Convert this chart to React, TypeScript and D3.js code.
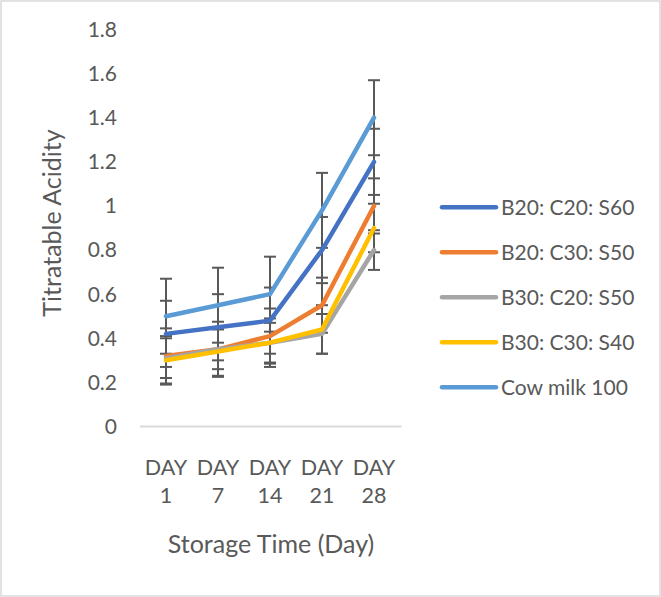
import React from "react";
import * as d3 from "d3";

const categories = ["DAY 1", "DAY 7", "DAY 14", "DAY 21", "DAY 28"];
const seriesNames = ["B20: C20: S60", "B20: C30: S50", "B30: C20: S50", "B30: C30: S40", "Cow milk 100"];
const b20c20s60 = [0.42, 0.45, 0.48, 0.8, 1.2];
const b20c30s50 = [0.32, 0.35, 0.41, 0.55, 1.0];
const b30c20s50 = [0.31, 0.35, 0.38, 0.42, 0.8];
const b30c30s40 = [0.3, 0.34, 0.38, 0.44, 0.9];
const cowMilk100 = [0.5, 0.55, 0.6, 0.98, 1.4];
const errorValues = [0.15, 0.125, 0.09, 0.11, 0.17];
const yTicks = [0, 0.2, 0.4, 0.6, 0.8, 1, 1.2, 1.4, 1.6, 1.8];
const colors = ["#4472C4", "#ED7D31", "#A5A5A5", "#FFC000", "#5B9BD5"];

const allSeries = [b20c20s60, b20c30s50, b30c20s50, b30c30s40, cowMilk100];

const W = 661;
const H = 597;
const FONT = "Lato, 'Open Sans', sans-serif";
const TXT = "#595959";

export default function App() {
  const x = d3.scalePoint<string>().domain(categories).range([166, 374]);
  const y = d3.scaleLinear().domain([0, 1.8]).range([426.5, 29.5]);
  const line = d3
    .line<number>()
    .x((_, i) => x(categories[i]) as number)
    .y((d) => y(d));

  return (
    <div style={{ position: "absolute", left: 0, top: 0 }}>
      <svg width={W} height={H} style={{ display: "block", fontFamily: FONT }}>
        <rect x={0} y={0} width={W} height={H} fill="#fff" />
        <rect x={1} y={1} width={659} height={595} fill="none" stroke="#d9d9d9" strokeWidth={1.5} />
        {/* y tick labels */}
        {yTicks.map((t) => (
          <text key={t} x={117} y={y(t)} dy="0.35em" textAnchor="end" fontSize={21} fill={TXT}>
            {d3.format("~g")(t)}
          </text>
        ))}
        {/* x axis line */}
        <line x1={140} x2={401.5} y1={y(0)} y2={y(0)} stroke="#d9d9d9" strokeWidth={2} />
        {/* x tick labels */}
        {categories.map((c) => {
          const [a, b] = c.split(" ");
          return (
            <text key={c} x={x(c)} textAnchor="middle" fontSize={21.5} fill={TXT}>
              <tspan x={x(c)} y={475}>{a}</tspan>
              <tspan x={x(c)} y={503}>{b}</tspan>
            </text>
          );
        })}
        {/* axis titles */}
        <text x={271} y={553} textAnchor="middle" fontSize={25} fill={TXT}>
          Storage Time (Day)
        </text>
        <text
          transform={`translate(61, 223) rotate(-90)`}
          textAnchor="middle"
          fontSize={25}
          fill={TXT}
        >
          Titratable Acidity
        </text>
        {/* error bars */}
        {allSeries.map((s, si) =>
          s.map((v, i) => {
            const cx = x(categories[i]) as number;
            const e = errorValues[si];
            return (
              <g key={`e${si}-${i}`} stroke="#595959" strokeWidth={2}>
                <line x1={cx} x2={cx} y1={y(v + e)} y2={y(v - e)} />
                <line x1={cx - 6} x2={cx + 6} y1={y(v + e)} y2={y(v + e)} />
                <line x1={cx - 6} x2={cx + 6} y1={y(v - e)} y2={y(v - e)} />
              </g>
            );
          })
        )}
        {/* lines */}
        {allSeries.map((s, si) => (
          <path
            key={`l${si}`}
            d={line(s) || ""}
            fill="none"
            stroke={colors[si]}
            strokeWidth={4.5}
            strokeLinecap="round"
            strokeLinejoin="round"
          />
        ))}
        {/* legend */}
        {seriesNames.map((n, i) => {
          const ly = 207.3 + i * 45;
          return (
            <g key={n}>
              <line x1={442} x2={496} y1={ly} y2={ly} stroke={colors[i]} strokeWidth={4.5} strokeLinecap="round" />
              <text x={501} y={ly} dy="0.36em" fontSize={21} fill={TXT}>
                {n}
              </text>
            </g>
          );
        })}
      </svg>
    </div>
  );
}
